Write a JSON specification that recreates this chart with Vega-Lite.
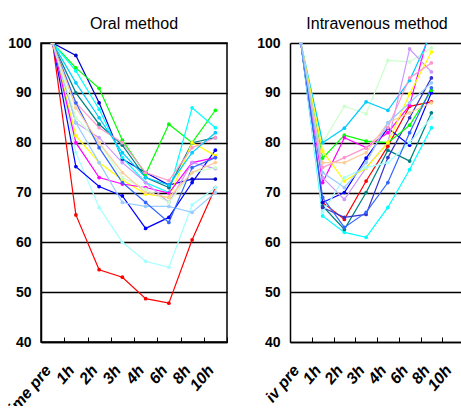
{
  "$schema": "https://vega.github.io/schema/vega-lite/v6.json",
  "padding": {"left": 0, "top": 15, "right": 0, "bottom": -15},
  "background": "white",
  "spacing": 27,
  "config": {
    "font": "Liberation Sans, Arial, sans-serif",
    "view": {"stroke": "black", "strokeWidth": 1.5}
  },
  "resolve": {"scale": {"color": "independent"}},
  "datasets": {
    "oral": [
      {"series":"O1","time":"time pre","value":100},{"series":"O1","time":"1h","value":65.5},{"series":"O1","time":"2h","value":54.5},{"series":"O1","time":"3h","value":53},{"series":"O1","time":"4h","value":48.7},{"series":"O1","time":"6h","value":47.8},{"series":"O1","time":"8h","value":60.5},{"series":"O1","time":"10h","value":71},
      {"series":"O2","time":"time pre","value":100},{"series":"O2","time":"1h","value":78},{"series":"O2","time":"2h","value":67},{"series":"O2","time":"3h","value":60},{"series":"O2","time":"4h","value":56.2},{"series":"O2","time":"6h","value":55},{"series":"O2","time":"8h","value":67.5},{"series":"O2","time":"10h","value":71},
      {"series":"O3","time":"time pre","value":100},{"series":"O3","time":"1h","value":75.2},{"series":"O3","time":"2h","value":71.2},{"series":"O3","time":"3h","value":69.3},{"series":"O3","time":"4h","value":62.8},{"series":"O3","time":"6h","value":65},{"series":"O3","time":"8h","value":72},{"series":"O3","time":"10h","value":78.5},
      {"series":"O4","time":"time pre","value":100},{"series":"O4","time":"1h","value":97.5},{"series":"O4","time":"2h","value":88},{"series":"O4","time":"3h","value":76.7},{"series":"O4","time":"4h","value":74},{"series":"O4","time":"6h","value":71.5},{"series":"O4","time":"8h","value":72.7},{"series":"O4","time":"10h","value":72.7},
      {"series":"O5","time":"time pre","value":100},{"series":"O5","time":"1h","value":95},{"series":"O5","time":"2h","value":90.9},{"series":"O5","time":"3h","value":80.5},{"series":"O5","time":"4h","value":73.7},{"series":"O5","time":"6h","value":83.7},{"series":"O5","time":"8h","value":80},{"series":"O5","time":"10h","value":86.5},
      {"series":"O6","time":"time pre","value":100},{"series":"O6","time":"1h","value":94.4},{"series":"O6","time":"2h","value":86.7},{"series":"O6","time":"3h","value":77},{"series":"O6","time":"4h","value":72},{"series":"O6","time":"6h","value":70},{"series":"O6","time":"8h","value":87},{"series":"O6","time":"10h","value":83},
      {"series":"O7","time":"time pre","value":100},{"series":"O7","time":"1h","value":90},{"series":"O7","time":"2h","value":83.7},{"series":"O7","time":"3h","value":79.5},{"series":"O7","time":"4h","value":73},{"series":"O7","time":"6h","value":71},{"series":"O7","time":"8h","value":80},{"series":"O7","time":"10h","value":81},
      {"series":"O8","time":"time pre","value":100},{"series":"O8","time":"1h","value":81.4},{"series":"O8","time":"2h","value":76},{"series":"O8","time":"3h","value":72.5},{"series":"O8","time":"4h","value":69.7},{"series":"O8","time":"6h","value":69},{"series":"O8","time":"8h","value":80},{"series":"O8","time":"10h","value":77.4},
      {"series":"O9","time":"time pre","value":100},{"series":"O9","time":"1h","value":80},{"series":"O9","time":"2h","value":73},{"series":"O9","time":"3h","value":71.7},{"series":"O9","time":"4h","value":71},{"series":"O9","time":"6h","value":69.9},{"series":"O9","time":"8h","value":76},{"series":"O9","time":"10h","value":77},
      {"series":"O10","time":"time pre","value":100},{"series":"O10","time":"1h","value":84},{"series":"O10","time":"2h","value":81},{"series":"O10","time":"3h","value":76},{"series":"O10","time":"4h","value":72},{"series":"O10","time":"6h","value":68},{"series":"O10","time":"8h","value":76},{"series":"O10","time":"10h","value":74.8},
      {"series":"O11","time":"time pre","value":100},{"series":"O11","time":"1h","value":84},{"series":"O11","time":"2h","value":76},{"series":"O11","time":"3h","value":68},{"series":"O11","time":"4h","value":67.2},{"series":"O11","time":"6h","value":67.2},{"series":"O11","time":"8h","value":66},{"series":"O11","time":"10h","value":70},
      {"series":"O12","time":"time pre","value":100},{"series":"O12","time":"1h","value":88},{"series":"O12","time":"2h","value":83},{"series":"O12","time":"3h","value":80},{"series":"O12","time":"4h","value":74},{"series":"O12","time":"6h","value":72.4},{"series":"O12","time":"8h","value":79},{"series":"O12","time":"10h","value":81},
      {"series":"O13","time":"time pre","value":100},{"series":"O13","time":"1h","value":85},{"series":"O13","time":"2h","value":80},{"series":"O13","time":"3h","value":73},{"series":"O13","time":"4h","value":70.7},{"series":"O13","time":"6h","value":68},{"series":"O13","time":"8h","value":74},{"series":"O13","time":"10h","value":75},
      {"series":"O14","time":"time pre","value":100},{"series":"O14","time":"1h","value":92},{"series":"O14","time":"2h","value":85},{"series":"O14","time":"3h","value":78},{"series":"O14","time":"4h","value":73},{"series":"O14","time":"6h","value":71.5},{"series":"O14","time":"8h","value":78},{"series":"O14","time":"10h","value":82},
      {"series":"O15","time":"time pre","value":100},{"series":"O15","time":"1h","value":88},{"series":"O15","time":"2h","value":79},{"series":"O15","time":"3h","value":72},{"series":"O15","time":"4h","value":68},{"series":"O15","time":"6h","value":64},{"series":"O15","time":"8h","value":75},{"series":"O15","time":"10h","value":77},
      {"series":"O16","time":"time pre","value":100},{"series":"O16","time":"1h","value":87},{"series":"O16","time":"2h","value":80},{"series":"O16","time":"3h","value":74},{"series":"O16","time":"4h","value":70},{"series":"O16","time":"6h","value":69},{"series":"O16","time":"8h","value":74},{"series":"O16","time":"10h","value":76}
    ],
    "iv": [
      {"series":"I1","time":"iv pre","value":100},{"series":"I1","time":"1h","value":65.3},{"series":"I1","time":"2h","value":62},{"series":"I1","time":"3h","value":61},{"series":"I1","time":"4h","value":67},{"series":"I1","time":"6h","value":74.6},{"series":"I1","time":"8h","value":83},
      {"series":"I2","time":"iv pre","value":100},{"series":"I2","time":"1h","value":67.3},{"series":"I2","time":"2h","value":62.6},{"series":"I2","time":"3h","value":70},{"series":"I2","time":"4h","value":78.5},{"series":"I2","time":"6h","value":76.3},{"series":"I2","time":"8h","value":86},
      {"series":"I3","time":"iv pre","value":100},{"series":"I3","time":"1h","value":68},{"series":"I3","time":"2h","value":64.6},{"series":"I3","time":"3h","value":72.3},{"series":"I3","time":"4h","value":79.3},{"series":"I3","time":"6h","value":87.3},{"series":"I3","time":"8h","value":88.2},
      {"series":"I4","time":"iv pre","value":100},{"series":"I4","time":"1h","value":68},{"series":"I4","time":"2h","value":70},{"series":"I4","time":"3h","value":76.9},{"series":"I4","time":"4h","value":82.9},{"series":"I4","time":"6h","value":79.5},{"series":"I4","time":"8h","value":90},
      {"series":"I5","time":"iv pre","value":100},{"series":"I5","time":"1h","value":67},{"series":"I5","time":"2h","value":65},{"series":"I5","time":"3h","value":65.6},{"series":"I5","time":"4h","value":77},{"series":"I5","time":"6h","value":85},{"series":"I5","time":"8h","value":93},
      {"series":"I6","time":"iv pre","value":100},{"series":"I6","time":"1h","value":76.9},{"series":"I6","time":"2h","value":81.5},{"series":"I6","time":"3h","value":80.3},{"series":"I6","time":"4h","value":80},{"series":"I6","time":"6h","value":83.5},{"series":"I6","time":"8h","value":90.5},
      {"series":"I7","time":"iv pre","value":100},{"series":"I7","time":"1h","value":72},{"series":"I7","time":"2h","value":81},{"series":"I7","time":"3h","value":79},{"series":"I7","time":"4h","value":82},{"series":"I7","time":"6h","value":87.5},{"series":"I7","time":"8h","value":104},
      {"series":"I8","time":"iv pre","value":100},{"series":"I8","time":"1h","value":80},{"series":"I8","time":"2h","value":87.3},{"series":"I8","time":"3h","value":85.8},{"series":"I8","time":"4h","value":96.5},{"series":"I8","time":"6h","value":96.2},{"series":"I8","time":"8h","value":99},
      {"series":"I9","time":"iv pre","value":100},{"series":"I9","time":"1h","value":80},{"series":"I9","time":"2h","value":82.9},{"series":"I9","time":"3h","value":88.2},{"series":"I9","time":"4h","value":86.5},{"series":"I9","time":"6h","value":92.5},{"series":"I9","time":"8h","value":102},
      {"series":"I10","time":"iv pre","value":100},{"series":"I10","time":"1h","value":73},{"series":"I10","time":"2h","value":68.6},{"series":"I10","time":"3h","value":75},{"series":"I10","time":"4h","value":80},{"series":"I10","time":"6h","value":98.8},{"series":"I10","time":"8h","value":94.2},
      {"series":"I11","time":"iv pre","value":100},{"series":"I11","time":"1h","value":78.3},{"series":"I11","time":"2h","value":72.3},{"series":"I11","time":"3h","value":74.9},{"series":"I11","time":"4h","value":80},{"series":"I11","time":"6h","value":89.8},{"series":"I11","time":"8h","value":98.2},
      {"series":"I12","time":"iv pre","value":100},{"series":"I12","time":"1h","value":75},{"series":"I12","time":"2h","value":77},{"series":"I12","time":"3h","value":79},{"series":"I12","time":"4h","value":83},{"series":"I12","time":"6h","value":93},{"series":"I12","time":"8h","value":96},
      {"series":"I13","time":"iv pre","value":100},{"series":"I13","time":"1h","value":76},{"series":"I13","time":"2h","value":76},{"series":"I13","time":"3h","value":78},{"series":"I13","time":"4h","value":84},{"series":"I13","time":"6h","value":86},{"series":"I13","time":"8h","value":88},
      {"series":"I14","time":"iv pre","value":100},{"series":"I14","time":"1h","value":66},{"series":"I14","time":"2h","value":73},{"series":"I14","time":"3h","value":75},{"series":"I14","time":"4h","value":76},{"series":"I14","time":"6h","value":80},{"series":"I14","time":"8h","value":85},
      {"series":"I15","time":"iv pre","value":100},{"series":"I15","time":"1h","value":69},{"series":"I15","time":"2h","value":63},{"series":"I15","time":"3h","value":66},{"series":"I15","time":"4h","value":72},{"series":"I15","time":"6h","value":82},{"series":"I15","time":"8h","value":91},
      {"series":"I16","time":"iv pre","value":100},{"series":"I16","time":"1h","value":74},{"series":"I16","time":"2h","value":71},{"series":"I16","time":"3h","value":76},{"series":"I16","time":"4h","value":84},{"series":"I16","time":"6h","value":88},{"series":"I16","time":"8h","value":92}
    ]
  },
  "hconcat": [
    {
      "title": {"text": "Oral method", "fontSize": 16, "fontWeight": "normal", "offset": 4, "color": "black"},
      "width": 186, "height": 299,
      "data": {"name": "oral"},
      "mark": {"type": "line", "strokeWidth": 1.2, "clip": true, "point": {"filled": true, "size": 14}},
      "encoding": {
        "x": {"field": "time", "type": "ordinal", "bandPosition": 0.5,
          "scale": {"type": "band", "domain": ["time pre","1h","2h","3h","4h","6h","8h","10h"], "paddingInner": 0, "paddingOuter": 0},
          "axis": {"title": null, "labelAngle": -50, "labelAlign": "right", "labelBaseline": "middle", "labelFontStyle": "italic", "labelFontWeight": "bold", "labelFontSize": 16, "labelColor": "black", "labelPadding": 30, "labelOffset": -5, "tickBand": "extent", "tickExtra": false, "tickSize": -5, "tickColor": "black", "tickWidth": 1, "domainColor": "black", "domainWidth": 1.5, "grid": false}},
        "y": {"field": "value", "type": "quantitative",
          "scale": {"domain": [40, 100], "nice": false, "zero": false},
          "axis": {"title": null, "values": [40,50,60,70,80,90,100], "grid": true, "gridColor": "black", "gridWidth": 1.5, "gridOpacity": 1, "domainColor": "black", "domainWidth": 1.5, "ticks": false, "labelFontSize": 14, "labelFontWeight": "bold", "labelColor": "black", "labelPadding": 10}},
        "color": {"field": "series", "type": "nominal", "legend": null,
          "scale": {"domain": ["O1","O2","O3","O4","O5","O6","O7","O8","O9","O10","O11","O12","O13","O14","O15","O16"],
                    "range": ["#FF0000","#A6FFFF","#0000FF","#0000CC","#00FF00","#00FFFF","#008080","#FFFF00","#FF00FF","#CC99FF","#99CCFF","#FF99CC","#CCFFCC","#00CCFF","#3366FF","#FFCC99"]}}
      }
    },
    {
      "title": {"text": "Intravenous method", "fontSize": 16, "fontWeight": "normal", "offset": 4, "color": "black"},
      "width": 174, "height": 299,
      "view": {"stroke": null},
      "data": {"name": "iv"},
      "mark": {"type": "line", "strokeWidth": 1.2, "clip": true, "point": {"filled": true, "size": 14}},
      "encoding": {
        "x": {"field": "time", "type": "ordinal", "bandPosition": 0.5,
          "scale": {"type": "band", "domain": ["iv pre","1h","2h","3h","4h","6h","8h","10h"], "paddingInner": 0, "paddingOuter": -0.258, "align": 0},
          "axis": {"title": null, "labelAngle": -50, "labelAlign": "right", "labelBaseline": "middle", "labelFontStyle": "italic", "labelFontWeight": "bold", "labelFontSize": 16, "labelColor": "black", "labelPadding": 30, "labelOffset": -5, "tickBand": "extent", "tickExtra": false, "tickSize": -5, "tickColor": "black", "tickWidth": 1, "domainColor": "black", "domainWidth": 1.5, "grid": false}},
        "y": {"field": "value", "type": "quantitative",
          "scale": {"domain": [40, 100], "nice": false, "zero": false},
          "axis": {"title": null, "values": [40,50,60,70,80,90,100], "grid": true, "gridColor": "black", "gridWidth": 1.5, "gridOpacity": 1, "domainColor": "black", "domainWidth": 1.5, "ticks": false, "labelFontSize": 14, "labelFontWeight": "bold", "labelColor": "black", "labelPadding": 10}},
        "color": {"field": "series", "type": "nominal", "legend": null,
          "scale": {"domain": ["I1","I2","I3","I4","I5","I6","I7","I8","I9","I10","I11","I12","I13","I14","I15","I16"],
                    "range": ["#00FFFF","#008080","#FF0000","#0000FF","#3333CC","#00FF00","#FF00FF","#CCFFCC","#00CCFF","#CC99FF","#FFFF00","#FF99CC","#FFCC99","#A6FFFF","#3366FF","#99CCFF"]}}
      }
    }
  ]
}
